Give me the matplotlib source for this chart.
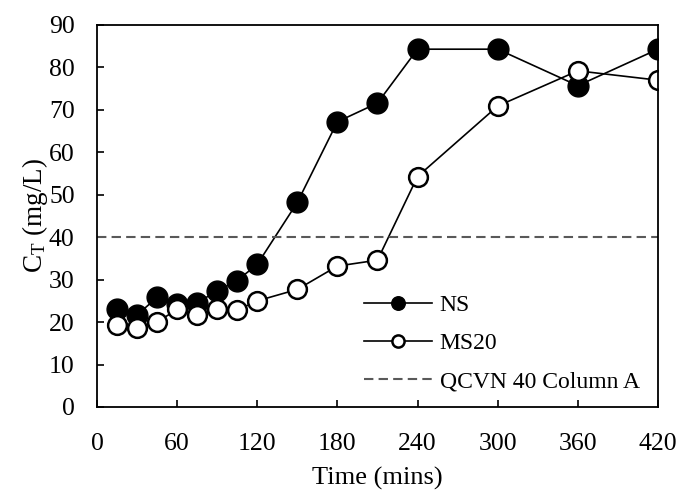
import numpy as np
import matplotlib.pyplot as plt

plt.rcParams['font.family'] = ['Liberation Serif', 'DejaVu Serif']
plt.rcParams['mathtext.fontset'] = 'custom'
plt.rcParams['mathtext.rm'] = 'Liberation Serif'
plt.rcParams['mathtext.it'] = 'Liberation Serif:italic'

time = [15, 30, 45, 60, 75, 90, 105, 120, 150, 180, 210, 240, 300, 360, 420]
ns = [23.2, 21.7, 25.8, 24.3, 24.6, 27.3, 29.8, 33.6, 48.2, 67.2, 71.6, 84.3, 84.3, 75.7, 84.3]
ms20 = [19.2, 18.6, 20.0, 23.0, 21.6, 23.0, 22.8, 25.0, 27.7, 33.2, 34.6, 54.3, 70.9, 79.2, 77.0]
limit = 40

fig = plt.figure(figsize=(6.8, 4.9), dpi=100)
ax = fig.add_axes([0.1426, 0.1694, 0.825, 0.7796])

ax.plot(time, ns, 'o-', color='black', lw=1.2, ms=15, mfc='black', mec='black', label='NS')
ax.plot(time, ms20, 'o-', color='black', lw=1.2, ms=13.5, mfc='white', mec='black', mew=1.8, label='MS20')
ax.axhline(limit, color='#595959', lw=1.5, dashes=(4.5, 2.5), label='QCVN 40 Column A')

ax.set_xlim(0, 420)
ax.set_ylim(0, 90)
ax.set_xticks(np.arange(0, 421, 60))
ax.set_yticks(np.arange(0, 91, 10))
ax.tick_params(direction='in', length=5, width=1.2, labelsize=18.5, top=False, right=False)
ax.tick_params(axis='x', pad=19)
ax.tick_params(axis='y', pad=16)
for s in ax.spines.values():
    s.set_linewidth(1.3)

ax.set_xlabel('Time (mins)', fontsize=19, labelpad=8)
ax.set_ylabel(r'C$_\mathrm{T}$ (mg/L)', fontsize=19.5, labelpad=-1)

ax.legend(loc='lower left', bbox_to_anchor=(0.476, 0.038), frameon=False, fontsize=17,
          markerscale=0.65, handlelength=2.9, handletextpad=0.3, labelspacing=0.7, borderpad=0,
          borderaxespad=0)

fig.savefig('out.png', dpi=100)
